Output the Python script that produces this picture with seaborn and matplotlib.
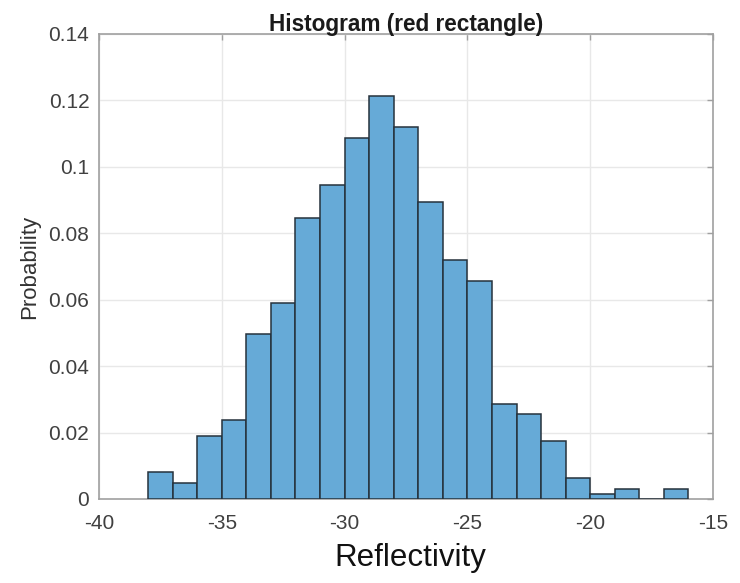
import numpy as np
import pandas as pd
import matplotlib
matplotlib.use("Agg")
import matplotlib.pyplot as plt
import seaborn as sns

# ---- data ----
bin_edges = [-38, -37, -36, -35, -34, -33, -32, -31, -30, -29, -28, -27,
             -26, -25, -24, -23, -22, -21, -20, -19, -18, -17, -16]
probability = [0.0081, 0.0048, 0.0190, 0.0239, 0.0496, 0.0591, 0.0847,
               0.0945, 0.1088, 0.1214, 0.1120, 0.0895, 0.0721, 0.0656,
               0.0287, 0.0255, 0.0175, 0.0063, 0.0014, 0.0031, 0.0,
               0.0031]
xticks = [-40, -35, -30, -25, -20, -15]
xtick_labels = ["-40", "-35", "-30", "-25", "-20", "-15"]
yticks = [0, 0.02, 0.04, 0.06, 0.08, 0.10, 0.12, 0.14]
ytick_labels = ["0", "0.02", "0.04", "0.06", "0.08", "0.1", "0.12", "0.14"]
title = "Histogram (red rectangle)"
xlabel = "Reflectivity"
ylabel = "Probability"

edges = np.array(bin_edges, dtype=float)
centers = (edges[:-1] + edges[1:]) / 2
df = pd.DataFrame({"Reflectivity": centers, "Probability": probability})

sns.set_theme(style="white")
plt.rcParams["font.family"] = ["Liberation Sans", "DejaVu Sans"]
plt.rcParams["axes.unicode_minus"] = False

fig = plt.figure(figsize=(7.4, 5.83), dpi=100)
ax = fig.add_axes([0.1338, 0.1441, 0.8297, 0.7976])

sns.histplot(data=df, x="Reflectivity", weights="Probability",
             binwidth=edges[1] - edges[0], binrange=(edges[0], edges[-1]),
             stat="count", color="#66aad7", alpha=1.0,
             edgecolor="#26323c", linewidth=1.1, ax=ax, zorder=3)

ax.set_xlim(-40, -15)
ax.set_ylim(0, 0.14)
ax.set_xticks(xticks)
ax.set_xticklabels(xtick_labels)
ax.set_yticks(yticks)
ax.set_yticklabels(ytick_labels)

ax.grid(True, color="#e8e8e8", linewidth=1.0, zorder=0)
ax.set_axisbelow(True)

for s in ax.spines.values():
    s.set_visible(True)
    s.set_color("#a0a0a0")
    s.set_linewidth(1.2)

ax.tick_params(axis="both", which="major", direction="in", length=4.5,
               width=1.0, color="#a0a0a0", labelsize=15,
               labelcolor="#404040", top=True, right=True)
ax.tick_params(axis="x", pad=10.5)
ax.tick_params(axis="y", pad=7)

ax.set_title(title, fontsize=16.3, fontweight="bold", color="#1a1a1a", pad=2)
ax.set_xlabel(xlabel, fontsize=22.5, color="#111111", labelpad=7.5, x=0.507)
ax.set_ylabel(ylabel, fontsize=16, color="#333333", labelpad=6)

fig.savefig("out.png", dpi=100, facecolor="white")
